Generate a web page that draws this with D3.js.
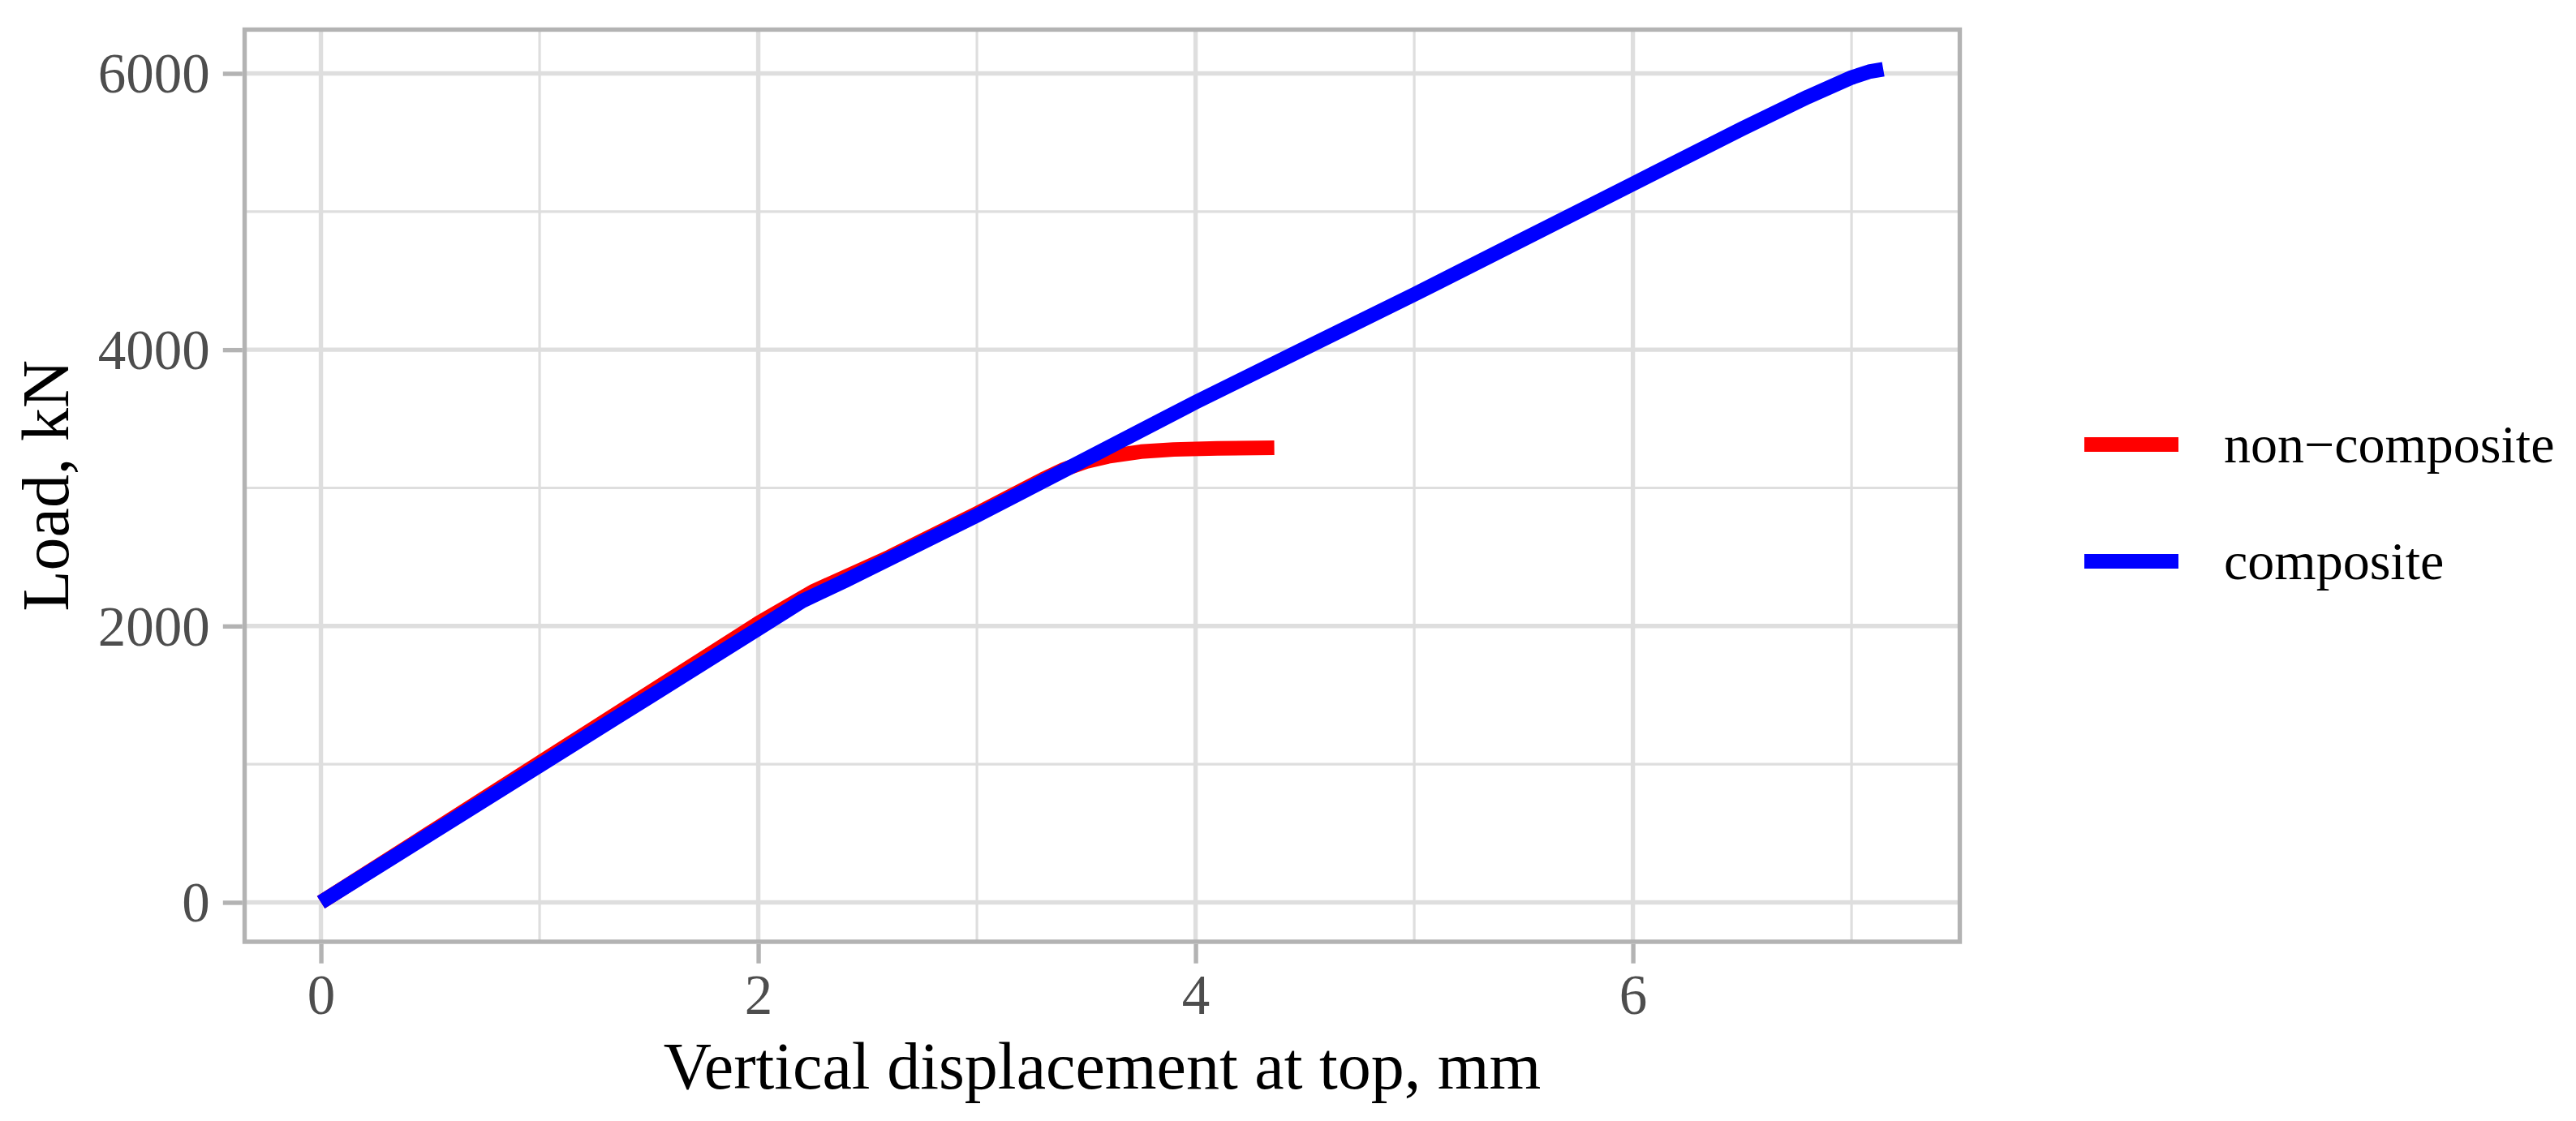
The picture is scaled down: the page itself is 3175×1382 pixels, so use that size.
<!DOCTYPE html>
<html>
<head>
	<meta charset='utf-8'>
	<title>Load vs vertical displacement</title>
	<script src="https://d3js.org/d3.v7.min.js"></script>
	<style>
		body { margin: 0; background: #fff; }
		text { font-family: "Liberation Serif", "Times New Roman", serif; }
	</style>
</head>
<body>
<script>
	// displacement (mm) / load (kN)
	var nonCompositeX = [0, 0.5, 1.0, 1.5, 2.0, 2.25, 2.6, 3.0, 3.3, 3.4, 3.5, 3.6, 3.75, 3.9, 4.1, 4.36];
	var nonCompositeY = [0, 505, 1010, 1515, 2020, 2250, 2500, 2815, 3060, 3135, 3190, 3228, 3262, 3278, 3286, 3290];
	var compositeX = [0, 0.5, 1.0, 1.5, 2.0, 2.2, 2.4, 3.0, 3.5, 4.0, 4.5, 5.0, 5.5, 6.0, 6.5, 6.8, 7.0, 7.08, 7.145];
	var compositeY = [0, 495, 990, 1485, 1980, 2180, 2330, 2800, 3210, 3620, 4010, 4400, 4800, 5200, 5600, 5830, 5970, 6012, 6030];

	var seriesNames = ["non\u2212composite", "composite"];
	var seriesColors = ["#ff0000", "#0000ff"];

	var xTicks = [0, 2, 4, 6];
	var xMinor = [1, 3, 5, 7];
	var yTicks = [0, 2000, 4000, 6000];
	var yMinor = [1000, 3000, 5000];

	var xTitle = "Vertical displacement at top, mm";
	var yTitle = "Load, kN";

	var width = 3175, height = 1382;
	var panel = { left: 301.5, right: 2415.5, top: 36.5, bottom: 1161 };

	var svg = d3.select("body").append("svg")
		.attr("width", width)
		.attr("height", height);

	svg.append("rect").attr("width", width).attr("height", height).attr("fill", "#fff");

	var x = d3.scaleLinear().domain([-0.349, 7.495]).range([panel.left, panel.right]);
	var y = d3.scaleLinear().domain([-285, 6317]).range([panel.bottom, panel.top]);

	var g = svg.append("g");

	// grid
	g.selectAll(".xminor").data(xMinor).enter().append("line")
		.attr("x1", function(d) { return x(d); }).attr("x2", function(d) { return x(d); })
		.attr("y1", panel.top).attr("y2", panel.bottom)
		.attr("stroke", "#dedede").attr("stroke-width", 3.2);
	g.selectAll(".yminor").data(yMinor).enter().append("line")
		.attr("y1", function(d) { return y(d); }).attr("y2", function(d) { return y(d); })
		.attr("x1", panel.left).attr("x2", panel.right)
		.attr("stroke", "#dedede").attr("stroke-width", 3.2);
	g.selectAll(".xmajor").data(xTicks).enter().append("line")
		.attr("x1", function(d) { return x(d); }).attr("x2", function(d) { return x(d); })
		.attr("y1", panel.top).attr("y2", panel.bottom)
		.attr("stroke", "#dedede").attr("stroke-width", 5.4);
	g.selectAll(".ymajor").data(yTicks).enter().append("line")
		.attr("y1", function(d) { return y(d); }).attr("y2", function(d) { return y(d); })
		.attr("x1", panel.left).attr("x2", panel.right)
		.attr("stroke", "#dedede").attr("stroke-width", 5.4);

	// curves, composite drawn last so it sits on top
	var data = [
		nonCompositeX.map(function(d, i) { return [d, nonCompositeY[i]]; }),
		compositeX.map(function(d, i) { return [d, compositeY[i]]; })
	];
	var line = d3.line()
		.x(function(d) { return x(d[0]); })
		.y(function(d) { return y(d[1]); });

	g.selectAll(".curve").data(data).enter().append("path")
		.attr("d", line)
		.attr("fill", "none")
		.attr("stroke", function(d, i) { return seriesColors[i]; })
		.attr("stroke-width", 18)
		.attr("stroke-linecap", "butt")
		.attr("stroke-linejoin", "round");

	// panel border
	g.append("rect")
		.attr("x", panel.left).attr("y", panel.top)
		.attr("width", panel.right - panel.left).attr("height", panel.bottom - panel.top)
		.attr("fill", "none").attr("stroke", "#b3b3b3").attr("stroke-width", 5.4);

	// axes
	var xAxis = d3.axisBottom(x).tickValues(xTicks).tickSize(24).tickPadding(14).tickFormat(d3.format("d"));
	var yAxis = d3.axisLeft(y).tickValues(yTicks).tickSize(24).tickPadding(16).tickFormat(d3.format("d"));

	var gx = svg.append("g").attr("transform", "translate(0," + (panel.bottom + 2.7) + ")").call(xAxis);
	var gy = svg.append("g").attr("transform", "translate(" + (panel.left - 2.7) + ",0)").call(yAxis);

	[gx, gy].forEach(function(a) {
		a.select(".domain").remove();
		a.selectAll(".tick line").attr("stroke", "#b3b3b3").attr("stroke-width", 5.4);
		a.selectAll(".tick text")
			.attr("fill", "#4d4d4d")
			.style("font-size", "69px")
			.style("font-family", "Liberation Serif");
	});
	gy.selectAll(".tick text").attr("dy", "0.34em");
	gx.selectAll(".tick text").attr("dy", "0.7em");

	svg.append("text")
		.attr("x", (panel.left + panel.right) / 2)
		.attr("y", 1342)
		.attr("text-anchor", "middle")
		.attr("fill", "#000")
		.style("font-size", "82px")
		.text(xTitle);

	svg.append("text")
		.attr("transform", "translate(84," + ((panel.top + panel.bottom) / 2) + ") rotate(-90)")
		.attr("text-anchor", "middle")
		.attr("fill", "#000")
		.style("font-size", "82px")
		.text(yTitle);

	// legend
	var legend = svg.append("g");
	var keys = legend.selectAll(".key").data(seriesNames).enter().append("g")
		.attr("transform", function(d, i) { return "translate(0," + (548 + i * 144) + ")"; });
	keys.append("line")
		.attr("x1", 2569).attr("x2", 2685)
		.attr("y1", 0).attr("y2", 0)
		.attr("stroke", function(d, i) { return seriesColors[i]; })
		.attr("stroke-width", 18);
	keys.append("text")
		.attr("x", 2741)
		.attr("y", 22)
		.attr("fill", "#000")
		.style("font-size", "66px")
		.text(function(d) { return d; });
</script>
</body>
</html>
